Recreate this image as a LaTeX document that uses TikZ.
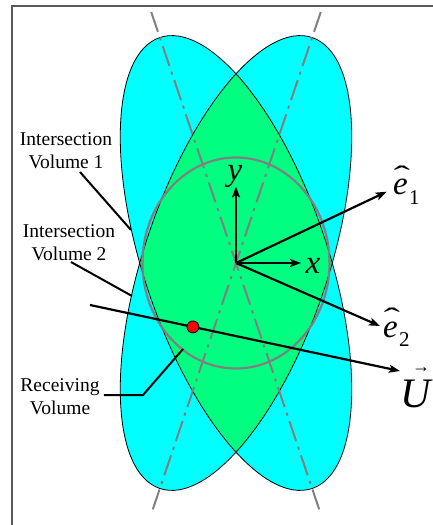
\documentclass[tikz,border=0pt]{standalone}
\usepackage{fontspec}
\setmainfont{Liberation Serif}
\usetikzlibrary{arrows.meta,calc}
\definecolor{cyanfill}{RGB}{0,255,255}
\definecolor{greenfill}{RGB}{0,255,128}
\definecolor{axisgray}{RGB}{128,128,128}
\definecolor{framegray}{RGB}{90,90,90}
\newcommand{\myEhat}[1]{\fontsize{33}{33}\selectfont\rlap{\hspace{0.01em}\raisebox{0.28em}{\scalebox{1.5}[0.85]{\upshape ˆ}}}\textit{e}\hspace{0.04em}\raisebox{-0.3em}{\fontsize{21}{21}\selectfont #1}}
\newcommand{\myUvec}{\fontsize{42}{42}\selectfont\rlap{\hspace{12pt}\raisebox{35pt}{\fontsize{18}{18}\selectfont\upshape →}}\textit{U}}
\begin{document}
\begin{tikzpicture}[x=1pt,y=1pt,
  lab/.style={font=\fontsize{19.5}{23}\selectfont, align=center, inner sep=0pt},
  mlab/.style={inner sep=0pt},
  vecarrow/.style={line width=2.2pt, -{Stealth[length=11pt,width=8pt,inset=2.5pt]}},
  pointer/.style={line width=2pt},
  axisline/.style={axisgray, line width=2pt, dash pattern=on 21pt off 6pt on 3pt off 6pt},
  beam/.style={x radius=92, y radius=238},
  outline/.style={draw=black, line width=0.8pt}]
\useasboundingbox (-236,263) rectangle (196,-262);
% frame
\draw[framegray, line width=1.5pt] (200,257) -- (-224,257) -- (-224,-266);
% beams
\fill[cyanfill, rotate=18.66] (0,0) ellipse [beam];
\fill[cyanfill, rotate=-18.66] (0,0) ellipse [beam];
\begin{scope}
  \clip[rotate=18.66] (0,0) ellipse [beam];
  \fill[greenfill, rotate=-18.66] (0,0) ellipse [beam];
\end{scope}
\draw[outline, rotate=18.66] (0,0) ellipse [beam];
\draw[outline, rotate=-18.66] (0,0) ellipse [beam];
% beam axes
\draw[axisline, rotate=18.66] (0,265) -- (0,-265);
\draw[axisline, rotate=-18.66] (0,265) -- (0,-265);
% receiving volume
\draw[axisgray, line width=2.2pt] (0,0) ellipse [x radius=93.5, y radius=105.5];
% coordinates
\coordinate (O) at (0,0);
\coordinate (ytip) at (0,76.5);
\coordinate (xtip) at (65,0);
\coordinate (e1tip) at (150.7,71.3);
\coordinate (e2tip) at (144,-63);
\coordinate (Us) at (-146,-42);
\coordinate (Ut) at (164,-108);
% vectors
\draw[vecarrow] (O) -- (ytip);
\draw[vecarrow] (O) -- (xtip);
\draw[vecarrow] (O) -- (e1tip);
\draw[vecarrow] (O) -- (e2tip);
\draw[vecarrow] (Us) -- (Ut);
\node[circle, fill=red, draw=black, line width=0.8pt, minimum size=12pt, inner sep=0pt] (dot) at ($(Us)!0.332!(Ut)$) {};
% math labels
\node[mlab, font=\fontsize{33}{33}\selectfont\itshape, anchor=base] (ylab) at (-1,82.5) {y};
\node[mlab, font=\fontsize{33}{33}\selectfont\itshape, anchor=base] (xlab) at (77,-10) {x};
\node[mlab, anchor=base west] (e1lab) at (157,68) {\myEhat{1}};
\node[mlab, anchor=base west] (e2lab) at (147,-74) {\myEhat{2}};
\node[mlab, anchor=base west] (Ulab) at (164,-144) {\myUvec};
% text labels
\node[lab] (iv1) at (-170,112) {Intersection\\Volume 1};
\node[lab] (iv2) at (-167,20) {Intersection\\Volume 2};
\node[lab] (rv) at (-176,-134) {Receiving\\Volume};
% pointers
\coordinate (p1a) at (-156,91);
\coordinate (p1b) at (-105,33);
\coordinate (p2a) at (-165,1);
\coordinate (p2b) at (-104,-33);
\coordinate (p3a) at (-132,-132);
\coordinate (p3b) at (-93,-132);
\coordinate (p3c) at (-53,-86);
\draw[pointer] (p1a) -- (p1b);
\draw[pointer] (p2a) -- (p2b);
\draw[pointer] (p3a) -- (p3b) -- (p3c);
\end{tikzpicture}
\end{document}
